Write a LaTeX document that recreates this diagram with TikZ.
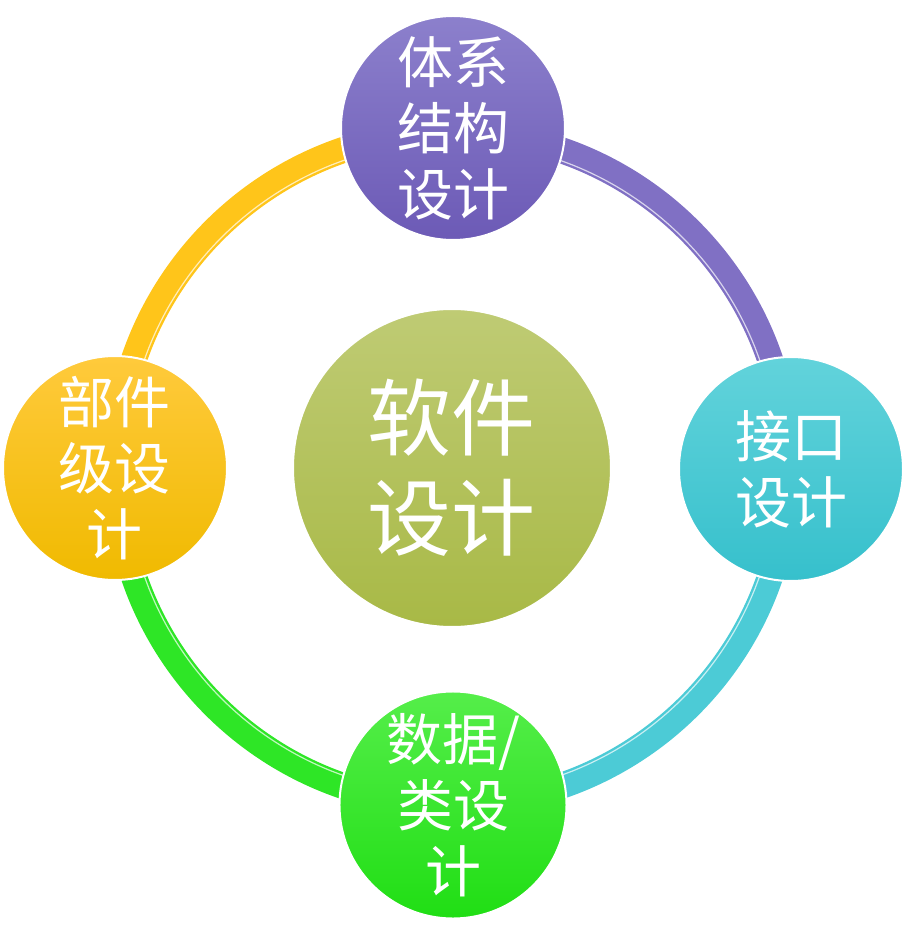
\documentclass[tikz,border=0pt]{standalone}
\usepackage{fontspec}
\newfontfamily\cjk{Noto Sans CJK SC}
\usepackage{tikz}
\usetikzlibrary{positioning}

\definecolor{purpTop}{HTML}{8C80CC}
\definecolor{purpBot}{HTML}{6C5AB6}
\definecolor{purpRing}{HTML}{8070C4}
\definecolor{cyanTop}{HTML}{62D3DB}
\definecolor{cyanBot}{HTML}{36C0CC}
\definecolor{cyanRing}{HTML}{4CCBD6}
\definecolor{yelTop}{HTML}{FFCA3C}
\definecolor{yelBot}{HTML}{F0BA00}
\definecolor{yelRing}{HTML}{FFC51A}
\definecolor{grnTop}{HTML}{55EE4A}
\definecolor{grnBot}{HTML}{20DE14}
\definecolor{grnRing}{HTML}{2EE626}
\definecolor{oliTop}{HTML}{BFCB74}
\definecolor{oliBot}{HTML}{A8B946}

\begin{document}
\begin{tikzpicture}[x=1pt,y=1pt,
  ring/.style={line width=26pt},
  ringlight/.style={line width=1.2pt,draw=white,opacity=0.7},
  ball/.style={circle,minimum size=224pt,inner sep=0pt,shading=axis,
    draw=white,line width=2pt,text=white,align=center,
    font=\cjk\fontsize{56}{66}\selectfont},
  hub/.style={ball,minimum size=318pt,font=\cjk\fontsize{84}{100}\selectfont}]
  \useasboundingbox (-452,-479) rectangle (455,468);

  % the ring, one quarter per colour
  \coordinate (o) at (0,0);
  \foreach \a/\c in {90/yelRing,0/purpRing,-90/cyanRing,-180/grnRing}{
    \draw[ring,draw=\c] (o) ++(\a:336pt) arc[start angle=\a,delta angle=90,radius=336pt];
    \draw[ringlight] (o) ++(\a:326pt) arc[start angle=\a,delta angle=90,radius=326pt];
  }

  % the five balls
  \node [hub,top color=oliTop,bottom color=oliBot] (soft) at (0,0) {软件\\设计};
  \node [ball,top color=purpTop,bottom color=purpBot] (arch) at (1,340) {体系\\结构\\设计};
  \node [ball,top color=cyanTop,bottom color=cyanBot] (iface) at (339,-1) {接口\\设计};
  \node [ball,top color=grnTop,bottom color=grnBot] (data) at (1,-337) {数据/\\类设\\计};
  \node [ball,top color=yelTop,bottom color=yelBot] (part) at (-337,0) {部件\\级设\\计};

\end{tikzpicture}
\end{document}
